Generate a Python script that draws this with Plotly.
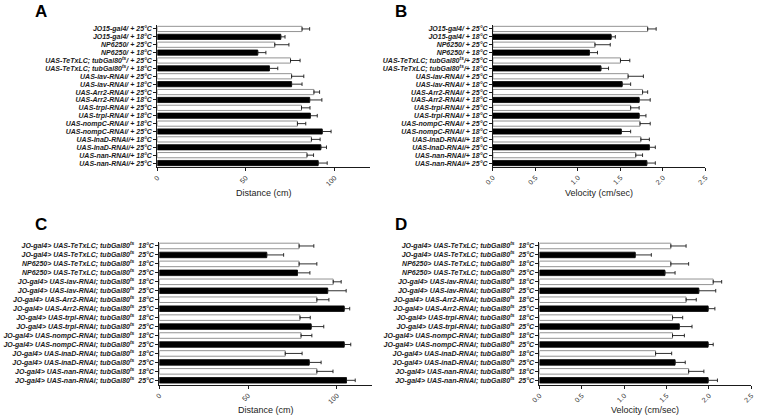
import plotly.graph_objects as go

# ---------------- data ----------------
SUP = "<sup>ts</sup>"
labels_A = [
    "JO15-gal4/ + 25°C", "JO15-gal4/ + 18°C", "NP6250/ + 25°C", "NP6250/ + 18°C",
    f"UAS-TeTxLC; tubGal80{SUP}/ + 25°C", f"UAS-TeTxLC; tubGal80{SUP}/ + 18°C",
    "UAS-iav-RNAi/ + 25°C", "UAS-iav-RNAi/ + 18°C",
    "UAS-Arr2-RNAi/ + 25°C", "UAS-Arr2-RNAi/ + 18°C",
    "UAS-trpl-RNAi/ + 25°C", "UAS-trpl-RNAi/ + 18°C",
    "UAS-nompC-RNAi/ + 18°C", "UAS-nompC-RNAi/ + 25°C",
    "UAS-InaD-RNAi/+ 18°C", "UAS-InaD-RNAi/+ 25°C",
    "UAS-nan-RNAi/+ 18°C", "UAS-nan-RNAi/+ 25°C",
]
dist_A = [81.7, 69.7, 66.3, 56.7, 75.2, 63.3, 75.8, 75.8, 88.4, 86.0,
          81.4, 86.4, 79.1, 93.1, 87.0, 92.3, 84.5, 90.8]
dist_A_err = [4.3, 2.4, 8.0, 4.6, 5.4, 4.7, 6.9, 5.9, 3.2, 6.9,
              4.8, 3.9, 4.7, 5.0, 4.9, 3.2, 3.7, 5.1]

labels_B = [
    "JO15-gal4/ + 25°C", "JO15-gal4/ + 18°C", "NP6250/ + 25°C", "NP6250/ + 18°C",
    f"UAS-TeTxLC; tubGal80{SUP}/+ 25°C", f"UAS-TeTxLC; tubGal80{SUP}/+ 18°C",
    "UAS-iav-RNAi/ + 25°C", "UAS-iav-RNAi/ + 18°C",
    "UAS-Arr2-RNAi/ + 25°C", "UAS-Arr2-RNAi/ + 18°C",
    "UAS-trpl-RNAi/ + 25°C", "UAS-trpl-RNAi/ + 18°C",
    "UAS-nompC-RNAi/ + 25°C", "UAS-nompC-RNAi/ + 18°C",
    "UAS-InaD-RNAi/+ 18°C", "UAS-InaD-RNAi/+ 25°C",
    "UAS-nan-RNAi/+ 18°C", "UAS-nan-RNAi/+ 25°C",
]
vel_B = [1.82, 1.39, 1.20, 1.135, 1.50, 1.27, 1.59, 1.52, 1.76, 1.72,
         1.62, 1.72, 1.73, 1.51, 1.74, 1.84, 1.68, 1.81]
vel_B_err = [0.10, 0.05, 0.18, 0.095, 0.11, 0.09, 0.18, 0.10, 0.06, 0.13,
             0.10, 0.08, 0.12, 0.11, 0.10, 0.07, 0.08, 0.10]

NB = "\u00a0\u00a0"
labels_CD = [
    f"JO-gal4> UAS-TeTxLC; tubGal80{SUP}{NB}18°C",
    f"JO-gal4> UAS-TeTxLC; tubGal80{SUP}{NB}25°C",
    f"NP6250> UAS-TeTxLC; tubGal80{SUP}{NB}18°C",
    f"NP6250> UAS-TeTxLC; tubGal80{SUP}{NB}25°C",
    f"JO-gal4> UAS-iav-RNAi; tubGal80{SUP}{NB}18°C",
    f"JO-gal4> UAS-iav-RNAi; tubGal80{SUP}{NB}25°C",
    f"JO-gal4> UAS-Arr2-RNAi; tubGal80{SUP}{NB}18°C",
    f"JO-gal4> UAS-Arr2-RNAi; tubGal80{SUP}{NB}25°C",
    f"JO-gal4> UAS-trpl-RNAi; tubGal80{SUP}{NB}18°C",
    f"JO-gal4> UAS-trpl-RNAi; tubGal80{SUP}{NB}25°C",
    f"JO-gal4> UAS-nompC-RNAi; tubGal80{SUP}{NB}18°C",
    f"JO-gal4> UAS-nompC-RNAi; tubGal80{SUP}{NB}25°C",
    f"JO-gal4> UAS-inaD-RNAi; tubGal80{SUP}{NB}18°C",
    f"JO-gal4> UAS-inaD-RNAi; tubGal80{SUP}{NB}25°C",
    f"JO-gal4> UAS-nan-RNAi; tubGal80{SUP}{NB}18°C",
    f"JO-gal4> UAS-nan-RNAi; tubGal80{SUP}{NB}25°C",
]
dist_C = [78.7, 60.5, 78.7, 77.8, 97.9, 94.8, 88.7, 104.1,
          79.2, 85.5, 79.8, 104.1, 70.9, 84.4, 88.7, 105.4]
dist_C_err = [8.3, 9.5, 10.0, 7.0, 4.5, 10.4, 6.8, 3.1,
              5.8, 7.1, 6.1, 3.7, 9.5, 6.7, 9.1, 4.9]

vel_D = [1.55, 1.13, 1.55, 1.48, 2.05, 1.88, 1.73, 1.99,
         1.57, 1.65, 1.57, 1.99, 1.37, 1.60, 1.76, 1.99]
vel_D_err = [0.18, 0.19, 0.21, 0.12, 0.10, 0.20, 0.12, 0.08,
             0.12, 0.15, 0.14, 0.06, 0.19, 0.12, 0.18, 0.11]

# ---------------- figure ----------------
W, H = 757, 415
INK = "#1a1a1a"
LABEL_FONT = dict(family="Liberation Sans, Arial", size=7, color=INK, weight="bold", style="italic")
XTICK_FONT = dict(family="Liberation Sans, Arial", size=7, color="#333")

fig = go.Figure()

def px_x(a, b):
    return [a / W, b / W]

def px_y(top, bottom):
    return [1 - bottom / H, 1 - top / H]

panels = [
    (labels_A, dist_A, dist_A_err, (150.7, 366.7), (25.0, 167.0), [0, 120], [0, 50, 100], "Distance (cm)", 0.34),
    (labels_B, vel_B, vel_B_err, (491.7, 707.7), (25.0, 167.0), [0, 2.5], [0, 0.5, 1.0, 1.5, 2.0, 2.5], "Velocity (cm/sec)", 0.34),
    (labels_CD, dist_C, dist_C_err, (152.7, 369.3), (241.5, 384.8), [0, 120], [0, 50, 100], "Distance (cm)", 0.38),
    (labels_CD, vel_D, vel_D_err, (539.0, 754.3), (241.5, 384.8), [0, 2.5], [0, 0.5, 1.0, 1.5, 2.0, 2.5], "Velocity (cm/sec)", 0.38),
]

for i, (labs, vals, errs, xd, yd, xr, ticks, xtitle, gap) in enumerate(panels):
    n = i + 1
    xa = "x" if n == 1 else f"x{n}"
    ya = "y" if n == 1 else f"y{n}"
    fills = ["white" if k % 2 == 0 else "black" for k in range(len(vals))]
    lines = ["#777" if k % 2 == 0 else "black" for k in range(len(vals))]
    fig.add_trace(go.Bar(
        x=vals, y=list(range(len(vals))), orientation="h",
        marker=dict(color=fills, line=dict(color=lines, width=0.8)),
        error_x=dict(type="data", symmetric=False, array=errs,
                     arrayminus=[0] * len(errs), color=INK, thickness=0.9, width=1.8),
        xaxis=xa, yaxis=ya, showlegend=False, width=1 - gap,
    ))
    tickfmt = ".1f" if xr[1] < 5 else "d"
    fig.layout[f"xaxis{'' if n == 1 else n}"] = dict(
        domain=px_x(*xd), range=xr, anchor=ya,
        showgrid=False, zeroline=False, showline=True, linecolor=INK, linewidth=1,
        ticks="outside", ticklen=3, tickcolor=INK, tickwidth=1,
        tickvals=ticks, tickformat=tickfmt, tickangle=-45, tickfont=XTICK_FONT,
    )
    fig.layout[f"yaxis{'' if n == 1 else n}"] = dict(
        domain=px_y(*yd), range=[len(vals) - 0.5, -0.5], anchor=xa,
        showgrid=False, zeroline=False, showline=True, linecolor=INK, linewidth=1,
        ticks="outside", ticklen=3, tickcolor=INK, tickwidth=1,
        tickvals=list(range(len(labs))), ticktext=labs, tickfont=LABEL_FONT,
    )
    fig.add_annotation(
        x=(xd[0] + xd[1]) / 2 / W, y=1 - (yd[1] + 25.5) / H, xref="paper", yref="paper",
        text=xtitle, showarrow=False, xanchor="center", yanchor="middle",
        font=dict(family="Liberation Sans, Arial", size=9, color="#222"),
    )

for letter, (lx, ly) in zip("ABCD", [(33, 11), (398, 11), (32.5, 224), (398, 224)]):
    fig.add_annotation(
        x=lx / W, y=1 - ly / H, xref="paper", yref="paper", text=f"<b>{letter}</b>",
        showarrow=False, xanchor="center", yanchor="middle",
        font=dict(family="Liberation Sans, Arial", size=17, color="black"),
    )

fig.update_layout(
    width=W, height=H, margin=dict(l=0, r=0, t=0, b=0),
    paper_bgcolor="white", plot_bgcolor="white", bargap=0.36,
)

fig.write_html("out.html", config={"displayModeBar": False},
               post_script="document.body.style.margin='0';")
